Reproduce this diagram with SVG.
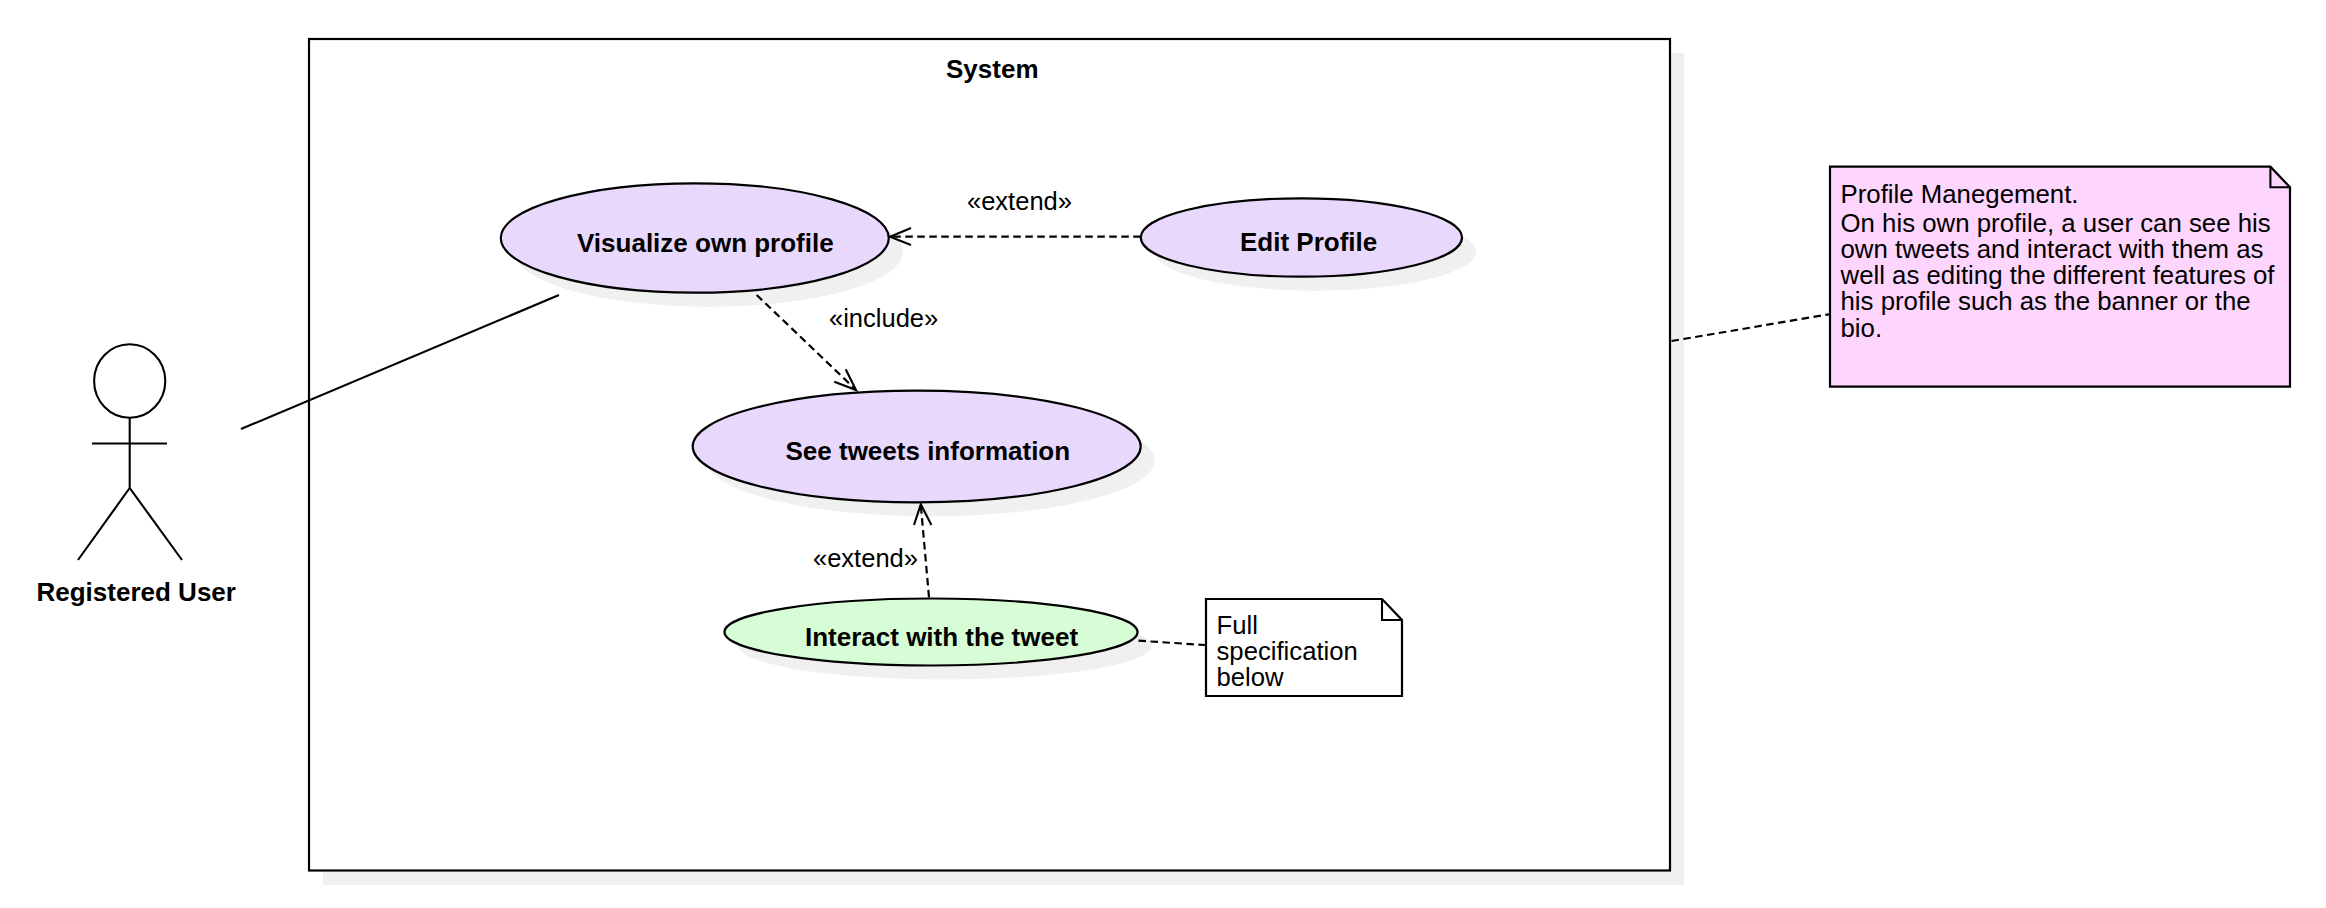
<svg xmlns="http://www.w3.org/2000/svg" width="2326" height="908" viewBox="0 0 2326 908">
<style>
text{font-family:"Liberation Sans",Arial,sans-serif;font-size:25.5px;fill:#000}
.b{font-weight:bold;font-size:26px}
.t{font-size:25.800px}
.s{fill:#f0f0f0;stroke:none}
.u{fill:#e8d8fc;stroke:#000;stroke-width:2.2}
.g{fill:#d6fdd6;stroke:#000;stroke-width:2.2}
.l{fill:none;stroke:#000;stroke-width:2.100}
.d{fill:none;stroke:#000;stroke-width:2.200;stroke-dasharray:7.500 4.500}
.n{stroke:#000;stroke-width:2.2;stroke-linejoin:miter}
</style>
<rect width="2326" height="908" fill="#fff"/>
<g id="system">
<rect class="s" x="323" y="53" width="1361" height="832"/>
<rect x="309" y="39" width="1361" height="831.500" fill="#fff" stroke="#000" stroke-width="2.2"/>
<text class="b" x="946" y="78">System</text>
</g>
<g id="actor">
<ellipse class="l" cx="129.700" cy="381" rx="35.600" ry="36.700"/>
<path class="l" d="M129.700 417.700V488M92 443.500H167M78 560L129.700 488L182 560"/>
<text class="b" x="36.500" y="600.700">Registered User</text>
</g>
<g id="visualize">
<ellipse class="s" cx="709" cy="252" rx="194" ry="54.700"/>
<ellipse class="u" cx="694.800" cy="238" rx="194" ry="54.700"/>
<text class="b" x="577" y="251.700">Visualize own profile</text>
</g>
<g id="edit">
<ellipse class="s" cx="1315.400" cy="251.500" rx="160.600" ry="39.200"/>
<ellipse class="u" cx="1301.400" cy="237.500" rx="160.600" ry="39.200"/>
<text class="b" x="1240" y="251">Edit Profile</text>
</g>
<g id="tweets">
<ellipse class="s" cx="930.700" cy="460.500" rx="224" ry="55.800"/>
<ellipse class="u" cx="916.700" cy="446.500" rx="224" ry="55.800"/>
<text class="b" x="785.500" y="460">See tweets information</text>
</g>
<g id="interact">
<ellipse class="s" cx="945" cy="646" rx="206.600" ry="33.500"/>
<ellipse class="g" cx="931" cy="632" rx="206.600" ry="33.500"/>
<text class="b" x="805" y="646.300">Interact with the tweet</text>
</g>
<g id="note1">
<path class="n" fill="#fff" d="M1206 599H1382L1402 620V696H1206Z"/>
<path class="l" d="M1382 599V620H1402"/>
<text x="1216.500" y="634.300" style="font-size:25.700px">Full</text>
<text x="1216.500" y="660.300" style="font-size:25.700px">specification</text>
<text x="1216.500" y="686.300" style="font-size:25.700px">below</text>
</g>
<g id="note2">
<path class="n" fill="#fdd5fd" d="M1830 166.700H2270.400L2290 187.300V386.700H1830Z"/>
<path class="l" d="M2270.400 166.700V187.300H2290"/>
<text class="t" x="1840.500" y="203.300">Profile Manegement.</text>
<text class="t" x="1840.500" y="231.700">On his own profile, a user can see his</text>
<text class="t" x="1840.500" y="257.700">own tweets and interact with them as</text>
<text class="t" x="1840.500" y="283.700">well as editing the different features of</text>
<text class="t" x="1840.500" y="310">his profile such as the banner or the</text>
<text class="t" x="1840.500" y="336.500">bio.</text>
</g>
<g id="connectors">
<path class="l" d="M241 429L559 295"/>
<path class="d" d="M1140.800 236.700H892"/>
<path class="l" d="M911 228L890 236.700L911 245"/>
<path class="d" d="M756.700 295L854 388"/>
<path class="l" d="M845.700 369.300L856 390L834.300 381.700"/>
<path class="d" d="M929 597.300L921 507"/>
<path class="l" d="M914 525L920.800 504.300L931.400 525"/>
<path class="d" d="M1138.500 640.700L1205 645"/>
<path class="d" d="M1671.500 341L1829 314.300"/>
<text x="967" y="210">«extend»</text>
<text x="829" y="326.700">«include»</text>
<text x="813" y="567.300">«extend»</text>
</g>
</svg>
